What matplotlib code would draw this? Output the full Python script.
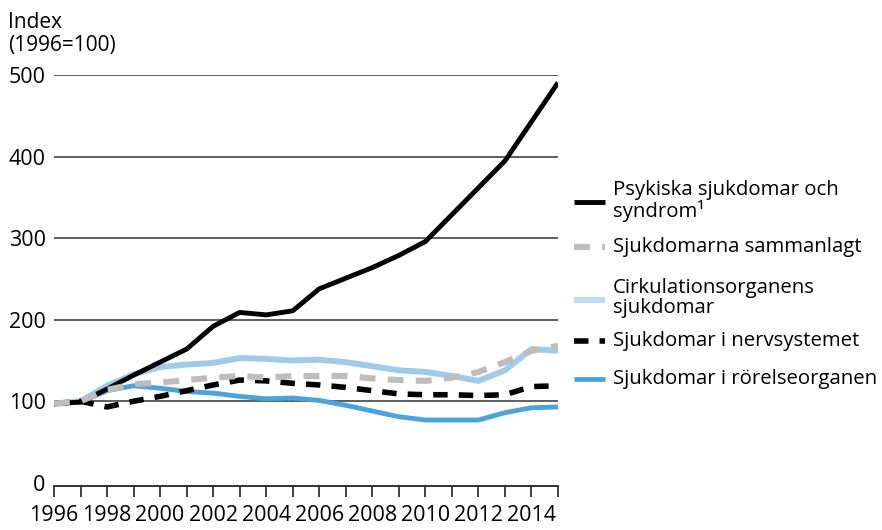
import matplotlib
matplotlib.use("Agg")
import matplotlib.pyplot as plt
from matplotlib.lines import Line2D

plt.rcParams['font.family'] = ['Open Sans', 'DejaVu Sans']

years = list(range(1996, 2016))
year_labels = [str(y) if (y - 1996) % 2 == 0 else '' for y in years]

psykiska = [97, 99, 115, 132, 148, 164, 192, 209, 206, 211, 238, 251, 264, 279, 296, 329, 362, 395, 443, 491]
sammanlagt = [97, 100, 114, 121, 123, 126, 129, 131, 129, 131, 131, 131, 128, 126, 125, 129, 136, 148, 162, 168]
cirkulation = [97, 100, 119, 133, 142, 145, 147, 153, 152, 150, 151, 148, 143, 138, 136, 131, 125, 138, 164, 162]
nerv = [97, 100, 93, 100, 106, 113, 120, 126, 125, 122, 120, 117, 113, 109, 108, 108, 107, 108, 118, 119]
rorelse = [97, 99, 113, 119, 116, 112, 110, 106, 103, 104, 101, 95, 88, 81, 77, 77, 77, 86, 92, 93]

names = ['Psykiska sjukdomar och\nsyndrom\u00b9', 'Sjukdomarna sammanlagt',
         'Cirkulationsorganens\nsjukdomar', 'Sjukdomar i nervsystemet',
         'Sjukdomar i rörelseorganen']

yticks = [0, 100, 200, 300, 400, 500]

W, H = 882, 530
fig = plt.figure(figsize=(W / 100, H / 100), dpi=100)
ax = fig.add_axes([54 / W, (H - 486) / H, (558 - 54) / W, (486 - 75.3) / H])

c_black = '#000000'
c_gray = '#BDBDBD'
c_light = '#9DCBE9'
c_blue = '#4DA3D8'

dash = (0, (2.6, 2.0))
styles = [
    dict(color=c_black, lw=3.5, ls='-', zorder=4, solid_capstyle='butt'),
    dict(color=c_gray, lw=4.4, ls=dash, zorder=6, dash_capstyle='butt'),
    dict(color=c_light, lw=4.3, ls='-', zorder=2, solid_capstyle='butt'),
    dict(color=c_black, lw=4.0, ls=dash, zorder=5, dash_capstyle='butt'),
    dict(color=c_blue, lw=3.5, ls='-', zorder=3, solid_capstyle='butt'),
]
series = [psykiska, sammanlagt, cirkulation, nerv, rorelse]
legend_colors = [c_black, c_gray, '#BCDDF2', c_black, c_blue]

for s, st in zip(series, styles):
    ax.plot(years, s, **st)

ax.set_xlim(1996, 2015)
ax.set_ylim(-4, 500)
ax.set_yticks(yticks)
ax.set_xticks(years)
ax.set_xticklabels(year_labels)

for sp in ['top', 'right', 'left']:
    ax.spines[sp].set_visible(False)
ax.spines['bottom'].set_linewidth(1.3)
ax.spines['bottom'].set_color('#222222')

ax.tick_params(axis='x', direction='out', length=8, width=1.2, color='#222222',
               pad=6, labelsize=15.5)
ax.tick_params(axis='y', length=0, pad=6, labelsize=15.5)

for yv in yticks[1:]:
    ax.axhline(yv, color='#333333', lw=1.1, zorder=1)

fig.text(8 / W, 1 - 22 / H, 'Index', fontsize=15, va='center', ha='left')
fig.text(8 / W, 1 - 46 / H, '(1996=100)', fontsize=15, va='center', ha='left')

# legend
handle_y = [202, 247, 300, 341, 379]
text_y = [201, 247, 298, 341, 379]
for name, st, col, hy, ty in zip(names, styles, legend_colors, handle_y, text_y):
    ln = Line2D([574 / W, 605 / W], [1 - hy / H, 1 - hy / H], transform=fig.transFigure,
                color=col, lw=st['lw'], ls=st['ls'], solid_capstyle='butt', dash_capstyle='butt')
    fig.add_artist(ln)
    fig.text(613 / W, 1 - ty / H, name, fontsize=14.7, va='center', ha='left',
             linespacing=1.0)

fig.savefig('out.png', dpi=100)
